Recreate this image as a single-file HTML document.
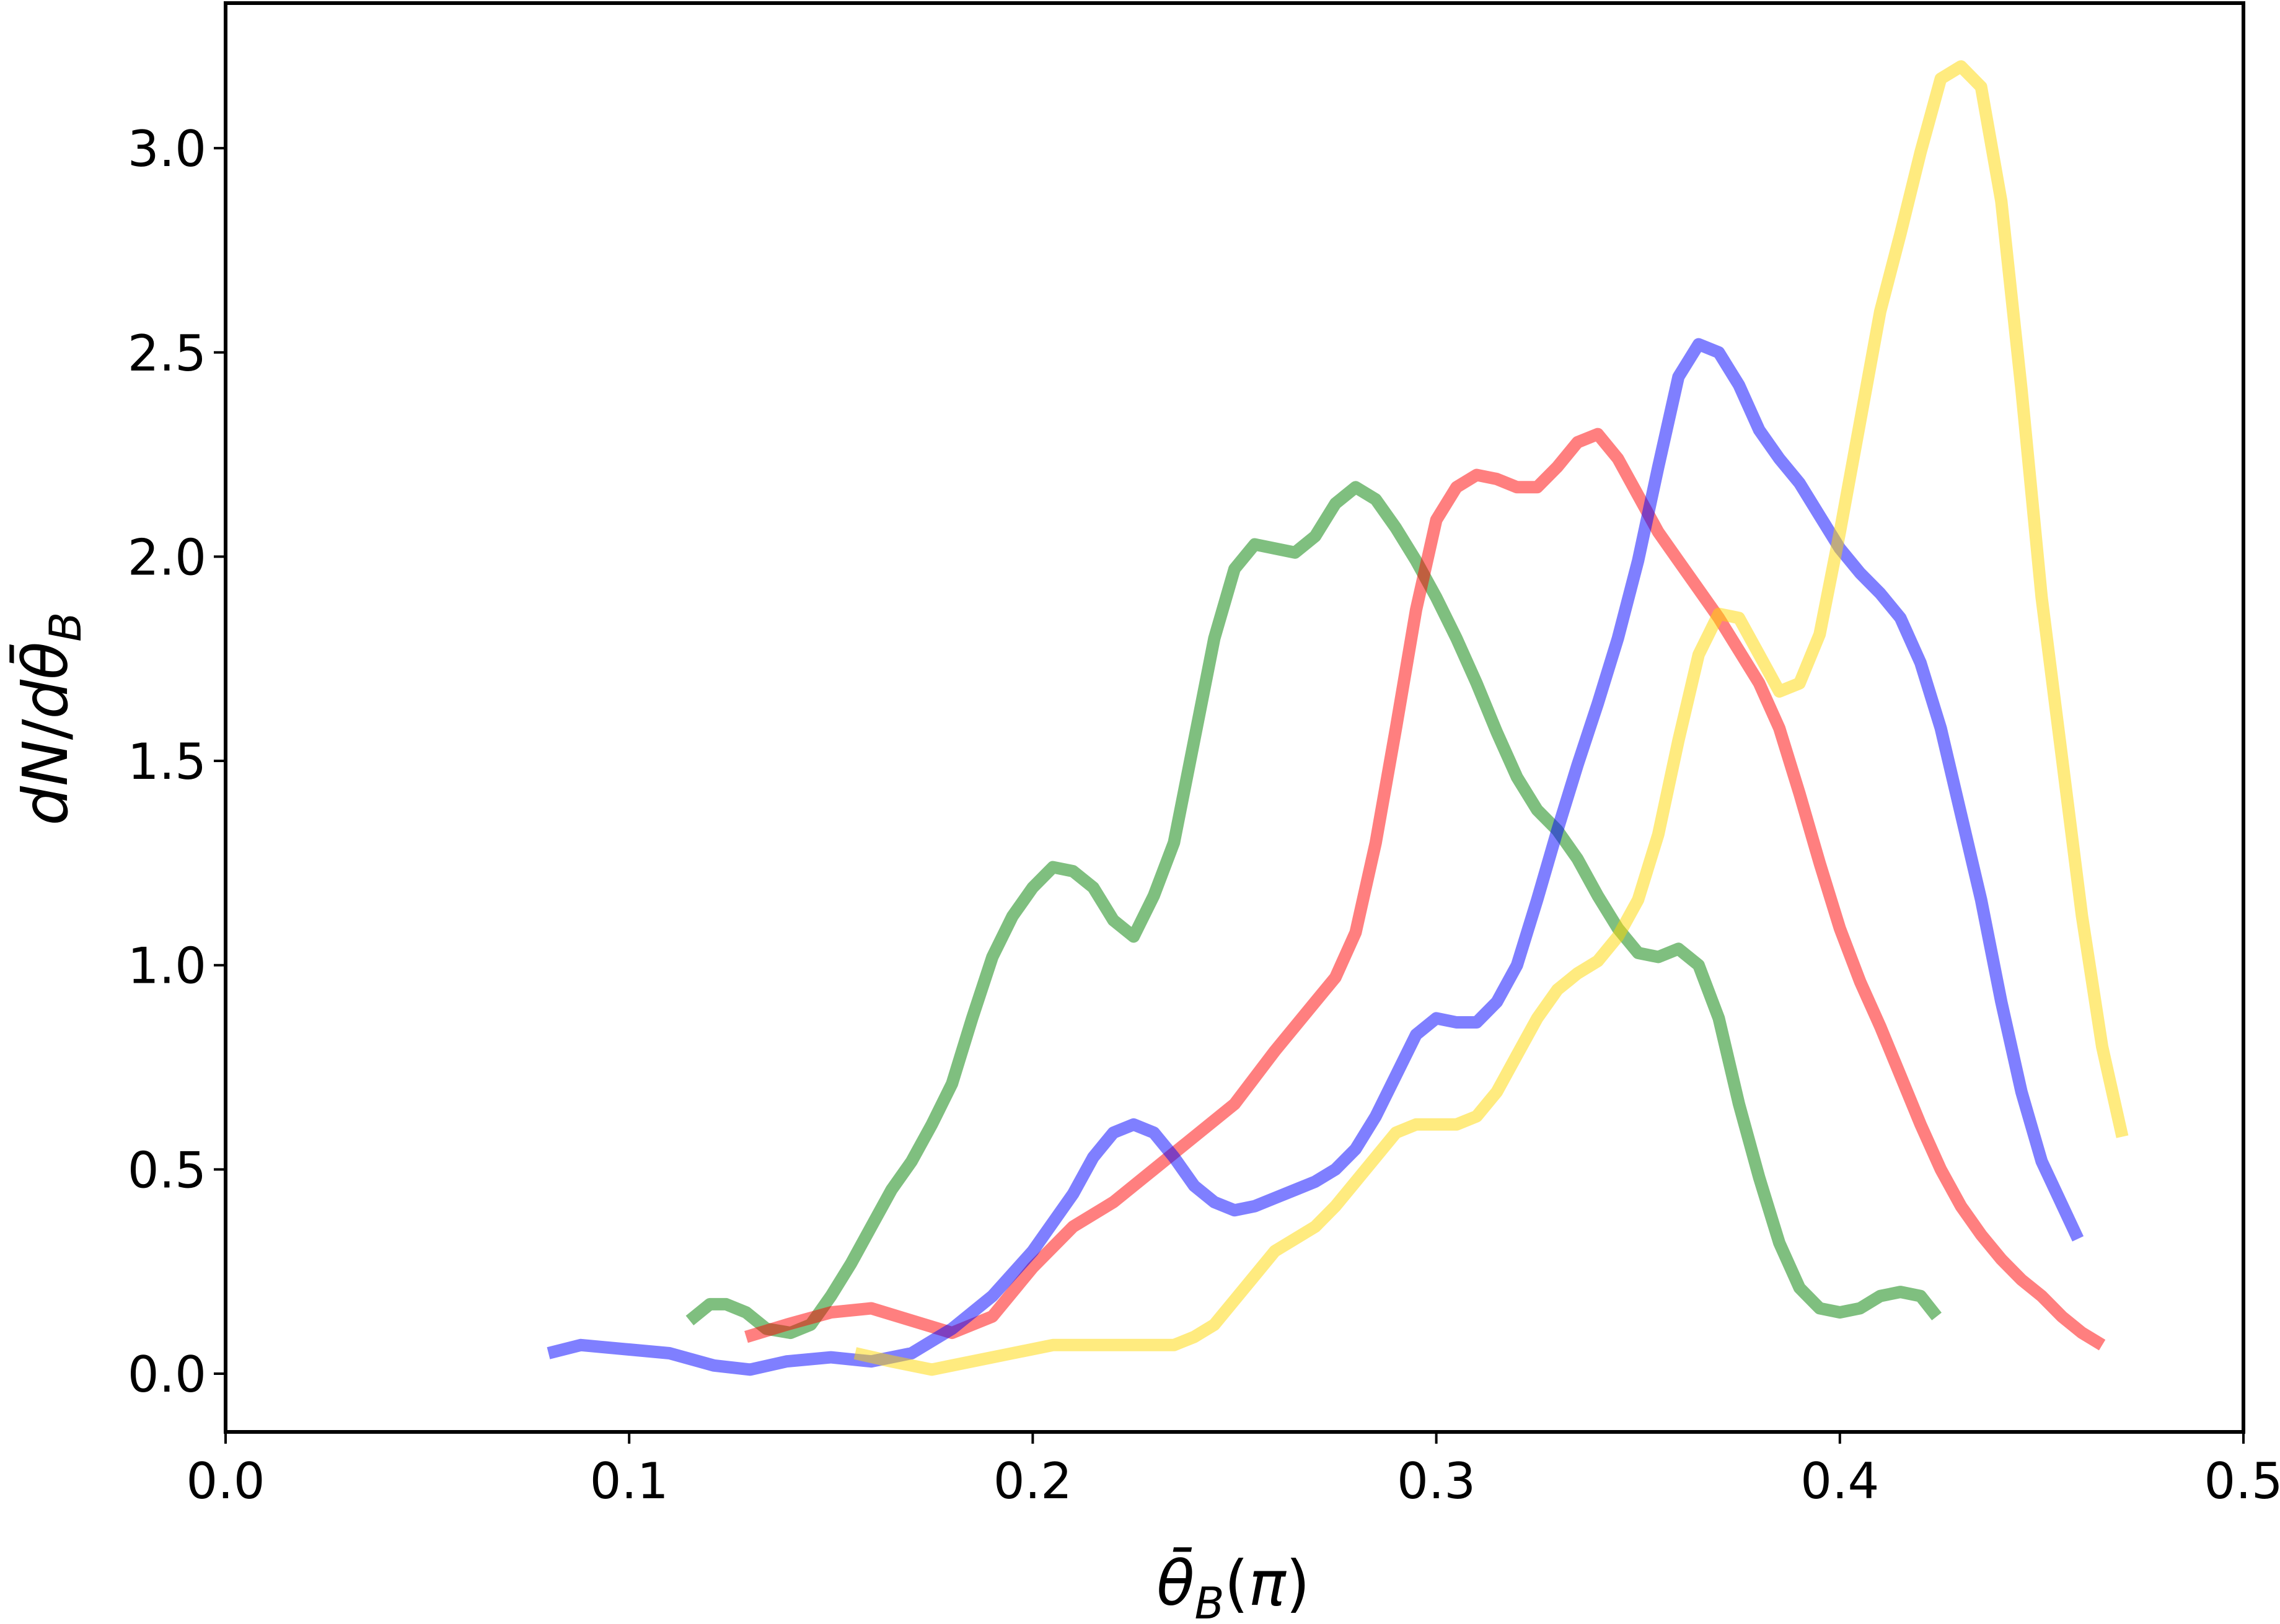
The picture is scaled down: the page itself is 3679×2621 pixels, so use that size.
<!DOCTYPE html>
<html><head><meta charset="utf-8"><style>
html,body{margin:0;padding:0;background:#fff}
svg{display:block}
text{font-family:"DejaVu Sans","Liberation Sans",sans-serif;fill:#000}
</style></head><body>
<svg id="chart" width="3679" height="2621" viewBox="0 0 3679 2621" xmlns="http://www.w3.org/2000/svg">
<g id="series"></g>
<rect x="364" y="5" width="3256" height="2306" fill="none" stroke="#000" stroke-width="6"/>
<g id="ticks"></g>
<text transform="translate(108,1160) rotate(-90)" text-anchor="middle" font-size="100"><tspan font-style="italic">dN</tspan>/<tspan font-style="italic">d</tspan><tspan font-style="italic">θ̄</tspan><tspan font-style="italic" font-size="70" dy="22">B</tspan></text>
<text x="1990" y="2590" text-anchor="middle" font-size="100"><tspan font-style="italic">θ̄</tspan><tspan font-style="italic" font-size="70" dy="22">B</tspan><tspan dy="-22">(</tspan><tspan font-style="italic">π</tspan>)</text>
</svg>
<script>
const xTicks = [0.0, 0.1, 0.2, 0.3, 0.4, 0.5];
const xTickLabels = ["0.0","0.1","0.2","0.3","0.4","0.5"];
const yTicks = [0.0, 0.5, 1.0, 1.5, 2.0, 2.5, 3.0];
const yTickLabels = ["0.0","0.5","1.0","1.5","2.0","2.5","3.0"];

const greenX = [.115,.120,.124,.129,.134,.140,.145,.150,.155,.160,.165,.170,.175,.180,.185,.190,.195,.200,.205,.210,.215,.220,.225,.230,.235,.240,.245,.250,.255,.260,.265,.270,.275,.280,.285,.290,.295,.300,.305,.310,.315,.320,.325,.330,.335,.340,.345,.350,.355,.360,.365,.370,.375,.380,.385,.390,.395,.400,.405,.410,.415,.420,.424];
const greenY = [.13,.17,.17,.15,.11,.10,.12,.19,.27,.36,.45,.52,.61,.71,.87,1.02,1.12,1.19,1.24,1.23,1.19,1.11,1.07,1.17,1.30,1.55,1.80,1.97,2.03,2.02,2.01,2.05,2.13,2.17,2.14,2.07,1.99,1.90,1.80,1.69,1.57,1.46,1.38,1.33,1.26,1.17,1.09,1.03,1.02,1.04,1.00,.87,.66,.48,.32,.21,.16,.15,.16,.19,.20,.19,.14];

const redX = [.129,.139,.150,.160,.170,.180,.190,.200,.210,.220,.230,.240,.250,.260,.270,.275,.280,.285,.290,.295,.300,.305,.310,.315,.320,.325,.330,.335,.340,.345,.350,.355,.360,.365,.370,.375,.380,.385,.390,.395,.400,.405,.410,.415,.420,.425,.430,.435,.440,.445,.450,.455,.460,.465];
const redY = [.09,.12,.15,.16,.13,.10,.14,.26,.36,.42,.50,.58,.66,.79,.91,.97,1.08,1.30,1.58,1.87,2.09,2.17,2.20,2.19,2.17,2.17,2.22,2.28,2.30,2.24,2.15,2.06,1.99,1.92,1.85,1.77,1.69,1.58,1.42,1.25,1.09,.96,.85,.73,.61,.50,.41,.34,.28,.23,.19,.14,.10,.07];

const blueX = [.080,.088,.099,.110,.121,.130,.139,.150,.160,.170,.180,.190,.200,.210,.215,.220,.225,.230,.235,.240,.245,.250,.255,.260,.265,.270,.275,.280,.285,.290,.295,.300,.305,.310,.315,.320,.325,.330,.335,.340,.345,.350,.355,.360,.365,.370,.375,.380,.385,.390,.395,.400,.405,.410,.415,.420,.425,.430,.435,.440,.445,.450,.459];
const blueY = [.05,.07,.06,.05,.02,.01,.03,.04,.03,.05,.11,.19,.30,.44,.53,.59,.61,.59,.53,.46,.42,.40,.41,.43,.45,.47,.50,.55,.63,.73,.83,.87,.86,.86,.91,1.00,1.16,1.33,1.49,1.64,1.80,1.99,2.22,2.44,2.52,2.50,2.42,2.31,2.24,2.18,2.10,2.02,1.96,1.91,1.85,1.74,1.58,1.37,1.16,.91,.69,.52,.33];

const yellowX = [.156,.165,.175,.185,.195,.205,.215,.225,.235,.240,.245,.250,.255,.260,.265,.270,.275,.280,.285,.290,.295,.300,.305,.310,.315,.320,.325,.330,.335,.340,.345,.350,.355,.360,.365,.370,.375,.380,.385,.390,.395,.400,.405,.410,.415,.420,.425,.430,.435,.440,.445,.450,.455,.460,.465,.470];
const yellowY = [.05,.03,.01,.03,.05,.07,.07,.07,.07,.09,.12,.18,.24,.30,.33,.36,.41,.47,.53,.59,.61,.61,.61,.63,.69,.78,.87,.94,.98,1.01,1.07,1.16,1.32,1.55,1.76,1.86,1.85,1.76,1.67,1.69,1.81,2.06,2.33,2.60,2.79,2.99,3.17,3.20,3.15,2.87,2.41,1.90,1.51,1.12,.80,.58];

const NS = "http://www.w3.org/2000/svg";
const X0 = 364, X1 = 3620, XMIN = 0, XMAX = 0.5;
const YZERO = 2217, YPERUNIT = 659.3;
function sx(v){ return X0 + (v - XMIN) / (XMAX - XMIN) * (X1 - X0); }
function sy(v){ return YZERO - v * YPERUNIT; }

const seriesG = document.getElementById('series');
function drawLine(xs, ys, color, name){
  const p = document.createElementNS(NS, 'polyline');
  p.setAttribute('points', xs.map((x,i)=>sx(x).toFixed(1)+','+sy(ys[i]).toFixed(1)).join(' '));
  p.setAttribute('fill','none');
  p.setAttribute('stroke',color);
  p.setAttribute('stroke-opacity','0.5');
  p.setAttribute('stroke-width','20');
  p.setAttribute('stroke-linejoin','round');
  
  
  seriesG.appendChild(p);
}
drawLine(greenX, greenY, '#008000', 'green-series-line');
drawLine(redX, redY, '#ff0000', 'red-series-line');
drawLine(blueX, blueY, '#0000ff', 'blue-series-line');
drawLine(yellowX, yellowY, '#ffd700', 'yellow-series-line');

const tg = document.getElementById('ticks');
xTicks.forEach((v,i)=>{
  const l = document.createElementNS(NS,'line');
  l.setAttribute('x1',sx(v)); l.setAttribute('x2',sx(v));
  l.setAttribute('y1',2311); l.setAttribute('y2',2330);
  l.setAttribute('stroke','#000'); l.setAttribute('stroke-width','4');
  
  
  tg.appendChild(l);
  const t = document.createElementNS(NS,'text');
  t.setAttribute('x',sx(v)); t.setAttribute('y',2418);
  t.setAttribute('text-anchor','middle'); t.setAttribute('font-size','80');
  t.textContent = xTickLabels[i];
  
  
  tg.appendChild(t);
});
yTicks.forEach((v,i)=>{
  const l = document.createElementNS(NS,'line');
  l.setAttribute('x1',345); l.setAttribute('x2',364);
  l.setAttribute('y1',sy(v)); l.setAttribute('y2',sy(v));
  l.setAttribute('stroke','#000'); l.setAttribute('stroke-width','4');
  
  
  tg.appendChild(l);
  const t = document.createElementNS(NS,'text');
  t.setAttribute('x',333); t.setAttribute('y',sy(v)+29);
  t.setAttribute('text-anchor','end'); t.setAttribute('font-size','80');
  t.textContent = yTickLabels[i];
  
  
  tg.appendChild(t);
});
</script>
</body></html>
